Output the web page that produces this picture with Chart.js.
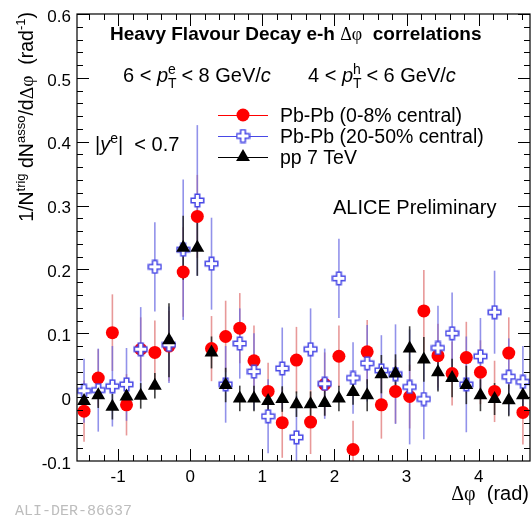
<!DOCTYPE html>
<html>
<head>
<meta charset="utf-8">
<script src="https://cdn.jsdelivr.net/npm/chart.js@4.4.0/dist/chart.umd.min.js"></script>
<style>
  html, body { margin: 0; padding: 0; background: #fff; }
  #wrap { width: 532px; height: 522px; position: relative; }
</style>
</head>
<body>
<div id="wrap"><canvas id="dphiChart"></canvas></div>
<script>
// bin centres in delta phi (rad)
const dphi = [-1.473, -1.276, -1.080, -0.884, -0.687, -0.491, -0.295, -0.098,
  0.098, 0.295, 0.491, 0.687, 0.884, 1.080, 1.276, 1.473,
  1.669, 1.865, 2.062, 2.258, 2.454, 2.651, 2.847, 3.043,
  3.240, 3.436, 3.632, 3.829, 4.025, 4.221, 4.418, 4.614];

// Pb-Pb 0-8% central
const pbCentral = [-0.022, 0.030, 0.101, -0.012, 0.075, 0.070, 0.080, 0.196,
  0.283, 0.076, 0.095, 0.108, 0.057, 0.009, -0.040, 0.058,
  -0.039, 0.020, 0.064, -0.082, 0.071, -0.012, 0.009, 0.001,
  0.135, 0.065, 0.037, 0.062, 0.039, 0.009, 0.069, -0.024];
const pbCentralErr = [0.048, 0.045, 0.060, 0.048, 0.050, 0.050, 0.055, 0.070,
  0.065, 0.051, 0.056, 0.055, 0.055, 0.045, 0.055, 0.052,
  0.050, 0.050, 0.048, 0.045, 0.050, 0.053, 0.050, 0.050,
  0.064, 0.050, 0.050, 0.056, 0.050, 0.048, 0.056, 0.050];

// Pb-Pb 20-50% central
const pbSemi = [0.010, 0.011, 0.017, 0.020, 0.075, 0.204, 0.082, 0.231,
  0.308, 0.209, 0.020, 0.084, 0.040, -0.030, 0.045, -0.063,
  0.075, 0.021, 0.186, 0.030, 0.053, 0.042, 0.036, 0.016,
  -0.003, 0.077, 0.100, 0.020, 0.064, 0.133, 0.032, 0.024];
const pbSemiErr = [0.050, 0.065, 0.063, 0.057, 0.066, 0.070, 0.060, 0.110,
  0.118, 0.072, 0.060, 0.055, 0.060, 0.058, 0.064, 0.065,
  0.064, 0.055, 0.062, 0.056, 0.060, 0.055, 0.078, 0.090,
  0.063, 0.066, 0.064, 0.075, 0.060, 0.065, 0.060, 0.056];

// pp 7 TeV
const pp = [-0.006, 0.003, -0.015, 0.001, 0.002, 0.018, 0.089, 0.234,
  0.234, 0.070, 0.019, -0.002, -0.002, -0.006, -0.003, -0.011,
  -0.011, -0.009, -0.002, 0.008, 0.003, 0.036, 0.037, 0.076,
  0.059, 0.039, 0.030, 0.019, 0.003, -0.003, -0.005, 0.003];
const ppErr = [0.020, 0.020, 0.020, 0.020, 0.020, 0.020, 0.058, 0.050,
  0.044, 0.025, 0.027, 0.020, 0.020, 0.020, 0.020, 0.020,
  0.020, 0.020, 0.020, 0.020, 0.025, 0.030, 0.030, 0.035,
  0.035, 0.030, 0.030, 0.030, 0.025, 0.025, 0.025, 0.025];

const xTickVals = [-1, 0, 1, 2, 3, 4];
const yTickVals = [-0.1, 0, 0.1, 0.2, 0.3, 0.4, 0.5, 0.6];

const FONT = '"Liberation Sans", Arial, Helvetica, sans-serif';
const SERIF = '"Liberation Serif", serif';
const RED = '#ff0000', RED_BAR = 'rgba(222,110,110,0.7)';
const BLUE = '#4848e6', BLUE_BAR = 'rgba(100,100,225,0.7)';
const BLACK = '#000', BLACK_BAR = 'rgba(30,30,30,0.85)';

// open cross marker (ROOT style 28)
function openCross(color) {
  const c = document.createElement('canvas');
  c.width = 15; c.height = 15;
  const g = c.getContext('2d');
  const m = 7.5, a = 2.3, L = 6.3;
  g.beginPath();
  g.moveTo(m - a, m - L); g.lineTo(m + a, m - L); g.lineTo(m + a, m - a);
  g.lineTo(m + L, m - a); g.lineTo(m + L, m + a); g.lineTo(m + a, m + a);
  g.lineTo(m + a, m + L); g.lineTo(m - a, m + L); g.lineTo(m - a, m + a);
  g.lineTo(m - L, m + a); g.lineTo(m - L, m - a); g.lineTo(m - a, m - a);
  g.closePath();
  g.fillStyle = '#fff'; g.fill();
  g.strokeStyle = color; g.lineWidth = 1.5; g.stroke();
  return c;
}
const crossImg = openCross(BLUE);

function toPoints(ys) {
  return dphi.map((x, i) => ({ x: x, y: ys[i] }));
}

// vertical error bars under the markers
const errorBars = {
  id: 'errorBars',
  beforeDatasetsDraw(chart) {
    const { ctx, chartArea: a, scales: { y } } = chart;
    ctx.save();
    ctx.beginPath();
    ctx.rect(a.left, a.top, a.right - a.left, a.bottom - a.top);
    ctx.clip();
    ctx.lineWidth = 1.6;
    chart.data.datasets.forEach((ds, di) => {
      const meta = chart.getDatasetMeta(di);
      ctx.strokeStyle = ds.barColor;
      meta.data.forEach((pt, i) => {
        const v = ds.data[i].y, e = ds.errors[i];
        ctx.beginPath();
        ctx.moveTo(pt.x, y.getPixelForValue(v + e));
        ctx.lineTo(pt.x, y.getPixelForValue(v - e));
        ctx.stroke();
      });
    });
    ctx.restore();
  }
};

// ROOT-like frame with inward ticks on all four sides
const frame = {
  id: 'frame',
  afterDraw(chart) {
    const { ctx, chartArea: a, scales: { x, y } } = chart;
    ctx.save();
    ctx.strokeStyle = '#000';
    ctx.lineWidth = 1.2;
    ctx.strokeRect(a.left, a.top, a.right - a.left, a.bottom - a.top);
    ctx.lineWidth = 1;
    ctx.beginPath();
    for (let k = -7; k <= 23; k++) {
      const v = k * 0.2;
      const px = Math.round(x.getPixelForValue(v)) + 0.5;
      if (px <= a.left + 1 || px >= a.right - 1) continue;
      const len = (k % 5 === 0) ? 12 : 6;
      ctx.moveTo(px, a.bottom); ctx.lineTo(px, a.bottom - len);
      ctx.moveTo(px, a.top); ctx.lineTo(px, a.top + len);
    }
    for (let k = -5; k <= 30; k++) {
      const v = k * 0.02;
      const py = Math.round(y.getPixelForValue(v)) + 0.5;
      if (py < a.top || py > a.bottom) continue;
      const len = (k % 5 === 0) ? 12 : 6;
      ctx.moveTo(a.left, py); ctx.lineTo(a.left + len, py);
      ctx.moveTo(a.right, py); ctx.lineTo(a.right - len, py);
    }
    ctx.stroke();
    ctx.restore();
  }
};

// text with sub/superscripts
function rich(ctx, x, y, parts, size, dry) {
  let cx = x;
  for (const s of parts) {
    const small = s.sup || s.sub;
    const fs = small ? Math.round(size * 0.68) : (s.size || size);
    ctx.font = (s.it ? 'italic ' : '') + (s.b ? 'bold ' : '') + fs + 'px ' + (s.fam || FONT);
    const w = ctx.measureText(s.t).width;
    const dy = s.sup ? -size * 0.42 : (s.sub ? size * 0.32 : 0);
    if (!dry) ctx.fillText(s.t, cx, y + dy);
    if (!s.stack) cx += w;
  }
  return cx - x;
}

function drawMarker(ctx, kind, x, y) {
  ctx.save();
  if (kind === 'circle') {
    ctx.fillStyle = RED;
    ctx.beginPath(); ctx.arc(x, y, 6.5, 0, Math.PI * 2); ctx.fill();
  } else if (kind === 'triangle') {
    const r = 8;
    ctx.fillStyle = BLACK;
    ctx.beginPath();
    ctx.moveTo(x, y - r);
    ctx.lineTo(x + r * 0.866, y + r / 2);
    ctx.lineTo(x - r * 0.866, y + r / 2);
    ctx.closePath(); ctx.fill();
  } else {
    ctx.drawImage(crossImg, x - 7.5, y - 7.5);
  }
  ctx.restore();
}

const texts = {
  id: 'texts',
  afterDraw(chart) {
    const { ctx } = chart;
    ctx.save();
    ctx.fillStyle = '#000';
    ctx.textBaseline = 'alphabetic';
    ctx.textAlign = 'left';

    rich(ctx, 110, 40, [
      { t: 'Heavy Flavour Decay e-h ', b: true },
      { t: '\u0394\u03c6', fam: SERIF, size: 18 },
      { t: '  correlations', b: true }
    ], 19);

    rich(ctx, 123, 82, [
      { t: '6 < ' }, { t: 'p', it: true }, { t: 'T', sub: true, stack: true },
      { t: 'e', sup: true }, { t: ' < 8 GeV/' }, { t: 'c', it: true }
    ], 20);
    rich(ctx, 308, 82, [
      { t: '4 < ' }, { t: 'p', it: true }, { t: 'T', sub: true, stack: true },
      { t: 'h', sup: true }, { t: ' < 6 GeV/' }, { t: 'c', it: true }
    ], 20);

    rich(ctx, 95, 151, [
      { t: '|' }, { t: 'y', it: true }, { t: 'e', sup: true }, { t: '|  < 0.7' }
    ], 20);

    // legend
    const leg = [
      ['Pb-Pb (0-8% central)', 'circle', RED, 115],
      ['Pb-Pb (20-50% central)', 'cross', BLUE, 136],
      ['pp 7 TeV', 'triangle', BLACK, 157]
    ];
    leg.forEach(([label, kind, col, ly]) => {
      ctx.strokeStyle = col; ctx.lineWidth = 1;
      ctx.beginPath(); ctx.moveTo(218, ly + 0.5); ctx.lineTo(268, ly + 0.5); ctx.stroke();
      drawMarker(ctx, kind, 243, ly);
      ctx.fillStyle = '#000';
      ctx.font = '19.5px ' + FONT;
      ctx.fillText(label, 280, ly + 7);
    });

    ctx.font = '20px ' + FONT;
    ctx.fillText('ALICE Preliminary', 333, 214);

    // x title
    ctx.textAlign = 'right';
    ctx.font = '20px ' + FONT;
    const xt = '  (rad)';
    ctx.fillText(xt, 529, 500);
    const wr = ctx.measureText(xt).width;
    ctx.font = '20px ' + SERIF;
    ctx.fillText('\u0394\u03c6', 529 - wr, 500);
    ctx.textAlign = 'left';

    // y title, rotated, right aligned at the top of the frame
    const yParts = [
      { t: '1/N' }, { t: 'trig', sup: true }, { t: ' dN' }, { t: 'asso', sup: true },
      { t: '/d' }, { t: '\u0394\u03c6', fam: SERIF },
      { t: '  (rad' }, { t: '-1', sup: true }, { t: ')' }
    ];
    const w = rich(ctx, 0, 0, yParts, 19.5, true);
    ctx.save();
    ctx.translate(33, 12);
    ctx.rotate(-Math.PI / 2);
    rich(ctx, -w, 0, yParts, 19.5);
    ctx.restore();

    // figure id
    ctx.fillStyle = '#bdbdbd';
    ctx.font = '15px "Liberation Mono", "DejaVu Sans Mono", monospace';
    ctx.fillText('ALI-DER-86637', 15, 515);
    ctx.restore();
  }
};

const ctx = document.getElementById('dphiChart').getContext('2d');

new Chart(ctx, {
  type: 'scatter',
  data: {
    datasets: [
      {
        label: 'Pb-Pb (0-8% central)',
        data: toPoints(pbCentral),
        errors: pbCentralErr,
        barColor: RED_BAR,
        pointStyle: 'circle',
        pointRadius: 6.5,
        backgroundColor: RED,
        borderColor: RED,
        borderWidth: 0,
        order: 3
      },
      {
        label: 'Pb-Pb (20-50% central)',
        data: toPoints(pbSemi),
        errors: pbSemiErr,
        barColor: BLUE_BAR,
        pointStyle: crossImg,
        pointRadius: 7.5,
        backgroundColor: BLUE,
        borderColor: BLUE,
        order: 2
      },
      {
        label: 'pp 7 TeV',
        data: toPoints(pp),
        errors: ppErr,
        barColor: BLACK_BAR,
        pointStyle: 'triangle',
        pointRadius: 8,
        backgroundColor: BLACK,
        borderColor: BLACK,
        borderWidth: 0,
        order: 1
      }
    ]
  },
  options: {
    responsive: true,
    maintainAspectRatio: false,
    animation: false,
    layout: { autoPadding: false, padding: { left: 0, top: 14, right: 2, bottom: 0 } },
    plugins: {
      legend: { display: false },
      tooltip: { enabled: false }
    },
    scales: {
      x: {
        type: 'linear',
        min: -Math.PI / 2,
        max: 3 * Math.PI / 2,
        grid: { display: false, drawTicks: false },
        border: { display: false },
        afterBuildTicks: s => { s.ticks = xTickVals.map(v => ({ value: v })); },
        afterFit: s => { s.height = 61; s.paddingLeft = 0; s.paddingRight = 0; },
        ticks: {
          padding: 6,
          maxRotation: 0,
          color: '#000',
          font: { family: FONT, size: 17 },
          callback: v => String(v)
        }
      },
      y: {
        min: -0.1,
        max: 0.6,
        grid: { display: false, drawTicks: false },
        border: { display: false },
        afterBuildTicks: s => { s.ticks = yTickVals.map(v => ({ value: v })); },
        afterFit: s => { s.width = 77; s.paddingTop = 0; s.paddingBottom = 0; },
        ticks: {
          padding: 6,
          labelOffset: 3,
          color: '#000',
          font: { family: FONT, size: 17 },
          callback: v => (Math.abs(v) < 1e-9 ? '0' : v.toFixed(1))
        }
      }
    }
  },
  plugins: [errorBars, frame, texts]
});
</script>
</body>
</html>
